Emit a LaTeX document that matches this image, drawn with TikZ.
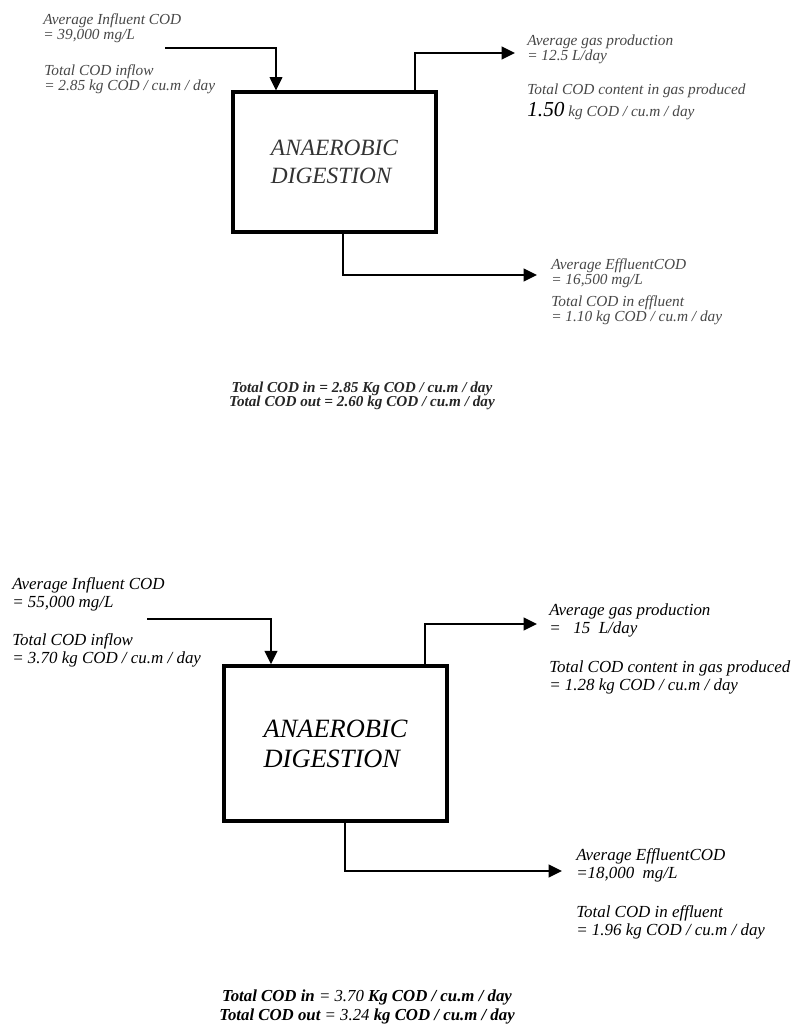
\documentclass[tikz,border=0pt]{standalone}
\usepackage{fontspec}
\setmainfont{Liberation Serif}
\usetikzlibrary{arrows.meta}
\begin{document}
\begin{tikzpicture}[x=0.75pt,y=-0.75pt,>={Triangle[length=10pt,width=9.5pt]},
  digest/.style={draw,align=left,inner sep=0pt},
  flow/.style={->,line width=1.5pt},
  note/.style={anchor=north west,align=left,inner sep=0pt},
  topnote/.style={note,text=black!72,font=\fontsize{11.5}{11.3}\selectfont\itshape},
  botnote/.style={note,font=\fontsize{12.7}{13.6}\selectfont\itshape}]
\useasboundingbox (0,0) rectangle (799,1024);
\node[digest,line width=2.3pt,minimum width=152.25pt,minimum height=105pt,font=\fontsize{17.5}{21}\selectfont\itshape,text=black!80] (boxA) at (334.5,162) {ANAEROBIC\\DIGESTION};
\node[topnote] (infA) at (43,13) {Average Influent COD\\= 39,000 mg/L};
\node[topnote] (inflowA) at (44,64) {Total COD inflow\\= 2.85 kg COD / cu.m / day};
\node[topnote] (gasA) at (527,35) {Average gas production\\= 12.5 L/day};
\node[topnote] (gascodA) at (527,84) {Total COD content in gas produced};
\node[topnote,anchor=base west] (gascodvalA) at (527,116) {{\color{black}\fontsize{16}{16}\selectfont 1.50} kg COD / cu.m / day};
\node[topnote] (effA) at (551,258) {Average EffluentCOD\\= 16,500 mg/L};
\node[topnote] (effcodA) at (551,295) {Total COD in effluent\\= 1.10 kg COD / cu.m / day};
\node[font=\fontsize{11.4}{10.5}\selectfont\bfseries\itshape,align=center,text=black!85,inner sep=0pt] (sumA) at (362,396) {Total COD in = 2.85 Kg COD / cu.m / day\\Total COD out = 2.60 kg COD / cu.m / day};
\coordinate (inA) at (165,48);
\coordinate (inTurnA) at (276,48);
\coordinate (gasTurnA) at (415,53);
\coordinate (gasEndA) at (515,53);
\coordinate (effTurnA) at (343,275);
\coordinate (effEndA) at (537,275);
\draw[flow,line width=1.2pt] (inA) -- (inTurnA) -- (inTurnA |- boxA.north);
\draw[flow,line width=1.2pt] (gasTurnA |- boxA.north) -- (gasTurnA) -- (gasEndA);
\draw[flow,line width=1.2pt] (effTurnA |- boxA.south) -- (effTurnA) -- (effEndA);

\node[digest,line width=2.6pt,minimum width=167.25pt,minimum height=116.25pt,font=\fontsize{19.8}{22.5}\selectfont\itshape] (boxB) at (335.5,743.5) {ANAEROBIC\\DIGESTION};
\node[botnote] (infB) at (12,577) {Average Influent COD\\= 55,000 mg/L};
\node[botnote] (inflowB) at (12,633) {Total COD inflow\\= 3.70 kg COD / cu.m / day};
\node[botnote] (gasB) at (549,603) {Average gas production\\=\ \ \ 15\ \ L/day};
\node[botnote] (gascodB) at (549,660) {Total COD content in gas produced\\= 1.28 kg COD / cu.m / day};
\node[botnote] (effB) at (576,848) {Average EffluentCOD\\=18,000\ \ mg/L};
\node[botnote] (effcodB) at (576,905) {Total COD in effluent\\= 1.96 kg COD / cu.m / day};
\node[font=\fontsize{12.6}{13.6}\selectfont\itshape,align=center,inner sep=0pt] (sumB) at (367,1007) {\textbf{Total COD in} = 3.70 \textbf{Kg COD / cu.m / day}\\\textbf{Total COD out} = 3.24 \textbf{kg COD / cu.m / day}};
\coordinate (inB) at (147,619);
\coordinate (inTurnB) at (271,619);
\coordinate (gasTurnB) at (425,624);
\coordinate (gasEndB) at (537,624);
\coordinate (effTurnB) at (345,871);
\coordinate (effEndB) at (562,871);
\draw[flow] (inB) -- (inTurnB) -- (inTurnB |- boxB.north);
\draw[flow] (gasTurnB |- boxB.north) -- (gasTurnB) -- (gasEndB);
\draw[flow] (effTurnB |- boxB.south) -- (effTurnB) -- (effEndB);
\end{tikzpicture}
\end{document}
